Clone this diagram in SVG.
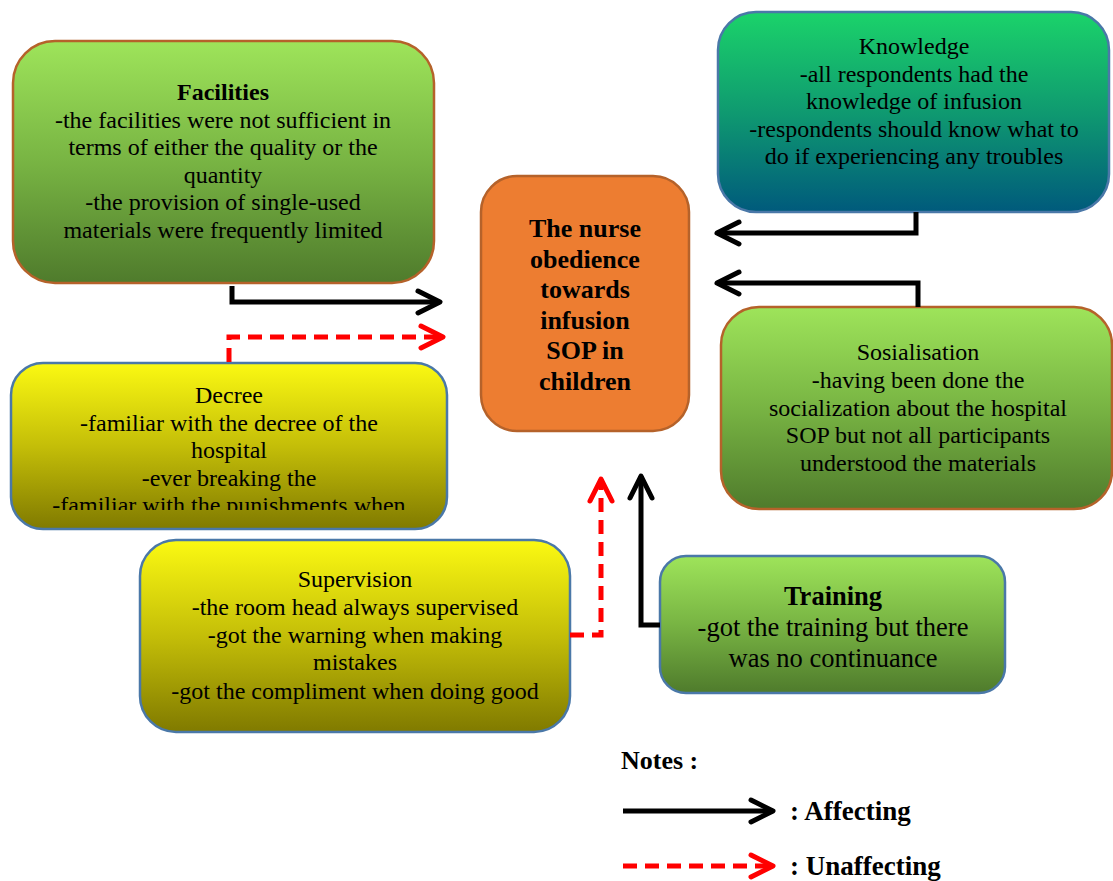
<svg xmlns="http://www.w3.org/2000/svg" width="1113" height="881" viewBox="0 0 1113 881">
<defs>
<linearGradient id="gGreen" x1="0" y1="0" x2="0" y2="1">
<stop offset="0" stop-color="#9ee45a"/><stop offset="0.5" stop-color="#78b443"/><stop offset="1" stop-color="#4f7b2c"/>
</linearGradient>
<linearGradient id="gTeal" x1="0" y1="0" x2="0" y2="1">
<stop offset="0" stop-color="#1bd36a"/><stop offset="0.5" stop-color="#0f9a70"/><stop offset="1" stop-color="#005a7c"/>
</linearGradient>
<linearGradient id="gYellow" x1="0" y1="0" x2="0" y2="1">
<stop offset="0" stop-color="#fbf912"/><stop offset="0.5" stop-color="#c4be08"/><stop offset="1" stop-color="#807a00"/>
</linearGradient>
<clipPath id="decreeClip"><rect x="11" y="363" width="436" height="147"/></clipPath>
<marker id="ahB" viewBox="0 0 30 30" refX="26" refY="15" markerWidth="30" markerHeight="30" markerUnits="userSpaceOnUse" orient="auto">
<polyline points="4,4 26,15 4,26" fill="none" stroke="#000" stroke-width="5" stroke-linecap="round" stroke-linejoin="round"/>
</marker>
<marker id="ahR" viewBox="0 0 30 30" refX="26" refY="15" markerWidth="30" markerHeight="30" markerUnits="userSpaceOnUse" orient="auto">
<polyline points="4,4 26,15 4,26" fill="none" stroke="#ff0000" stroke-width="5" stroke-linecap="round" stroke-linejoin="round"/>
</marker>
</defs>
<style>
.box{stroke-width:2.5}
.brown{stroke:#b5622a}
.blue{stroke:#4a78a8}
.t{font-family:"Liberation Serif","Times New Roman",serif;font-size:24px;fill:#000;text-anchor:middle}
.b{font-weight:bold}
.aff{fill:none;stroke:#000;stroke-width:5;marker-end:url(#ahB)}
.una{fill:none;stroke:#ff0000;stroke-width:5;stroke-dasharray:14 8;marker-end:url(#ahR)}
</style>

<g id="facilities">
<rect class="box brown" x="13" y="41" width="421" height="242" rx="42" fill="url(#gGreen)"/>
<text class="t"><tspan class="b" x="223" y="100">Facilities</tspan><tspan x="223" y="128">-the facilities were not sufficient in</tspan><tspan x="223" y="155">terms of either the quality or the</tspan><tspan x="223" y="183">quantity</tspan><tspan x="223" y="210">-the provision of single-used</tspan><tspan x="223" y="238">materials were frequently limited</tspan></text>
</g>

<g id="knowledge">
<rect class="box blue" x="718" y="12" width="391" height="200" rx="38" fill="url(#gTeal)"/>
<text class="t"><tspan x="914" y="54">Knowledge</tspan><tspan x="914" y="82">-all respondents had the</tspan><tspan x="914" y="109">knowledge of infusion</tspan><tspan x="914" y="137">-respondents should know what to</tspan><tspan x="914" y="164">do if experiencing any troubles</tspan></text>
</g>

<g id="center">
<rect class="box brown" x="481" y="176" width="208" height="255" rx="36" fill="#ed7d31"/>
<text class="t b" style="font-size:26px"><tspan x="585" y="237">The nurse</tspan><tspan x="585" y="268">obedience</tspan><tspan x="585" y="298">towards</tspan><tspan x="585" y="329">infusion</tspan><tspan x="585" y="359">SOP in</tspan><tspan x="585" y="390">children</tspan></text>
</g>

<g id="decree">
<rect class="box blue" x="11" y="363" width="436" height="166" rx="32" fill="url(#gYellow)"/>
<text class="t" clip-path="url(#decreeClip)"><tspan x="229" y="403">Decree</tspan><tspan x="229" y="431">-familiar with the decree of the</tspan><tspan x="229" y="458">hospital</tspan><tspan x="229" y="486">-ever breaking the</tspan><tspan x="229" y="513">-familiar with the punishments when</tspan></text>
</g>

<g id="supervision">
<rect class="box blue" x="140" y="540" width="430" height="192" rx="36" fill="url(#gYellow)"/>
<text class="t"><tspan x="355" y="587">Supervision</tspan><tspan x="355" y="615">-the room head always supervised</tspan><tspan x="355" y="643">-got the warning when making</tspan><tspan x="355" y="670">mistakes</tspan><tspan x="355" y="699">-got the compliment when doing good</tspan></text>
</g>

<g id="sosialisation">
<rect class="box brown" x="721" y="307" width="391" height="202" rx="38" fill="url(#gGreen)"/>
<text class="t"><tspan x="918" y="360">Sosialisation</tspan><tspan x="918" y="388">-having been done the</tspan><tspan x="918" y="416">socialization about the hospital</tspan><tspan x="918" y="443">SOP but not all participants</tspan><tspan x="918" y="471">understood the materials</tspan></text>
</g>

<g id="training">
<rect class="box blue" x="660" y="556" width="345" height="137" rx="26" fill="url(#gGreen)"/>
<text class="t" style="font-size:26.5px"><tspan class="b" x="833" y="605">Training</tspan><tspan x="833" y="636">-got the training but there</tspan><tspan x="833" y="667">was no continuance</tspan></text>
</g>

<g id="connectors">
<polyline class="aff" points="232,286 232,302 440,302"/>
<polyline class="una" points="229,362 229,337 443,337"/>
<polyline class="aff" points="916,212 916,233 717,233"/>
<polyline class="aff" points="918,307 918,283 717,283"/>
<polyline class="una" points="570,635 601,635 601,479"/>
<polyline class="aff" points="660,625 641,625 641,476"/>
</g>

<g id="legend">
<text class="t b" style="font-size:26px;text-anchor:start" x="621" y="769">Notes :</text>
<line class="aff" x1="623" y1="811" x2="773" y2="811"/>
<text class="t b" style="font-size:27px;text-anchor:start" x="790" y="820">: Affecting</text>
<line class="una" x1="623" y1="866" x2="773" y2="866"/>
<text class="t b" style="font-size:27px;text-anchor:start" x="790" y="875">: Unaffecting</text>
</g>
</svg>
